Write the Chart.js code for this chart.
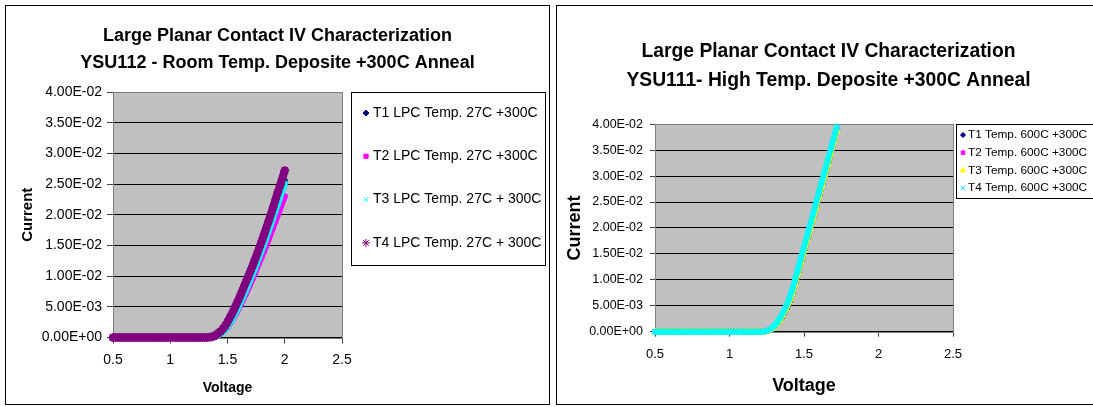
<!DOCTYPE html>
<html><head><meta charset="utf-8">
<script src="https://cdn.jsdelivr.net/npm/chart.js@4.4.1/dist/chart.umd.min.js"></script>
<style>
html,body{margin:0;padding:0;background:#fff;width:1093px;height:407px;overflow:hidden;}
.box{position:absolute;border:1px solid #000;background:#fff;box-sizing:border-box;}
#b1{left:5px;top:5px;width:545px;height:400px;}
#b2{left:556px;top:5px;width:545px;height:400px;}
canvas{display:block;}
</style></head><body>
<div class="box" id="b1"><canvas id="c1" width="543" height="398"></canvas></div>
<div class="box" id="b2"><canvas id="c2" width="543" height="398"></canvas></div>
<script>
// ---------- Chart 1: YSU112 ----------
const TITLE_112 = ['Large Planar Contact IV Characterization', 'YSU112 - Room Temp. Deposite +300C Anneal'];
const LABELS_112 = ['T1 LPC Temp. 27C +300C', 'T2 LPC Temp. 27C +300C', 'T3 LPC Temp. 27C + 300C', 'T4 LPC Temp. 27C + 300C'];
const VOLT_112 = [0.5,0.52,0.54,0.56,0.58,0.6,0.62,0.64,0.66,0.68,0.7,0.72,0.74,0.76,0.78,0.8,0.82,0.84,0.86,0.88,
  0.9,0.92,0.94,0.96,0.98,1,1.02,1.04,1.06,1.08,1.1,1.12,1.14,1.16,1.18,1.2,1.22,1.24,1.26,1.28,1.3,
  1.32,1.34,1.36,1.38,1.4,1.42,1.44,1.46,1.48,1.5,1.52,1.54,1.56,1.58,1.6,1.62,1.64,1.66,1.68,1.7,
  1.72,1.74,1.76,1.78,1.8,1.82,1.84,1.86,1.88,1.9,1.92,1.94,1.96,1.98,2.0];
const I112_T1 = [0,0,0,0,0,0,0,0,0,0,0,0,0,0,0,0,0,0,0,0,0,0,0,0,0,0,0,0,0,0,0,0,0,0,0,0,0,0,0,0,0,
  0,0.00003,0.00007,0.00015,0.0003,0.0005,0.0008,0.0011,0.0015,0.0020,0.0026,0.0033,0.0040,0.0047,0.0055,
  0.0063,0.0071,0.0080,0.0089,0.0098,0.0107,0.0116,0.0126,0.0136,0.0146,0.0156,0.0166,0.0177,0.0188,0.0199,
  0.0210,0.0221,0.0232,0.0244,0.0255];
const I112_T2 = [0,0,0,0,0,0,0,0,0,0,0,0,0,0,0,0,0,0,0,0,0,0,0,0,0,0,0,0,0,0,0,0,0,0,0,0,0,0,0,0,0,
  0,0.00002,0.00005,0.0001,0.0002,0.0004,0.0006,0.0009,0.0013,0.0017,0.0022,0.0028,0.0034,0.0041,0.0048,
  0.0055,0.0063,0.0071,0.0079,0.0087,0.0096,0.0105,0.0114,0.0123,0.0132,0.0141,0.0150,0.0160,0.0170,0.0180,
  0.0190,0.0200,0.0210,0.0220,0.0230];
const I112_T3 = [0,0,0,0,0,0,0,0,0,0,0,0,0,0,0,0,0,0,0,0,0,0,0,0,0,0,0,0,0,0,0,0,0,0,0,0,0,0,0,0,0,
  0,0.00002,0.00005,0.0001,0.0002,0.0004,0.0006,0.0009,0.0013,0.0018,0.0023,0.0029,0.0036,0.0043,0.0051,
  0.0059,0.0067,0.0076,0.0085,0.0094,0.0103,0.0112,0.0122,0.0132,0.0142,0.0152,0.0162,0.0173,0.0184,0.0195,
  0.0206,0.0217,0.0228,0.0240,0.0251];
const I112_T4 = [0,0,0,0,0,0,0,0,0,0,0,0,0,0,0,0,0,0,0,0,0,0,0,0,0,0,0,0,0,0,0,0,0,0,0,0,0,0,0,0,0,
  0.00002,0.00005,0.0001,0.0002,0.0004,0.0007,0.0010,0.0014,0.0019,0.0025,0.0032,0.0039,0.0047,0.0055,0.0063,
  0.0072,0.0081,0.0090,0.0099,0.0108,0.0117,0.0127,0.0137,0.0147,0.0157,0.0168,0.0179,0.0190,0.0201,0.0213,
  0.0225,0.0237,0.0248,0.0260,0.0272];

// ---------- Chart 2: YSU111 ----------
const TITLE_111 = ['Large Planar Contact IV Characterization', 'YSU111- High Temp. Deposite +300C Anneal'];
const LABELS_111 = ['T1 Temp. 600C +300C', 'T2 Temp. 600C +300C', 'T3 Temp. 600C +300C', 'T4 Temp. 600C +300C'];
const VOLT_111 = [0.5,0.52,0.54,0.56,0.58,0.6,0.62,0.64,0.66,0.68,0.7,0.72,0.74,0.76,0.78,0.8,0.82,0.84,0.86,0.88,
  0.9,0.92,0.94,0.96,0.98,1,1.02,1.04,1.06,1.08,1.1,1.12,1.14,1.16,1.18,1.2,1.22,
  1.24,1.26,1.28,1.3,1.32,1.34,1.36,1.38,1.4,1.42,1.44,1.46,1.48,1.5,1.52,1.54,1.56,1.58,1.6,1.62,1.64,1.66,1.68,1.7,1.72];
const I111_T1 = [0,0,0,0,0,0,0,0,0,0,0,0,0,0,0,0,0,0,0,0,0,0,0,0,0,0,0,0,0,0,0,0,0,0,0,0,0,
  0.0001,0.0002,0.0005,0.0009,0.0015,0.0023,0.0032,0.0043,0.0056,0.0073,0.0093,0.0114,0.0135,0.0156,0.0177,
  0.0198,0.0219,0.0240,0.0261,0.0282,0.0303,0.0324,0.0345,0.0366,0.0390];
const I111_T2 = [0,0,0,0,0,0,0,0,0,0,0,0,0,0,0,0,0,0,0,0,0,0,0,0,0,0,0,0,0,0,0,0,0,0,0,0,0,
  0.0001,0.0003,0.0005,0.0010,0.0016,0.0025,0.0035,0.0046,0.0060,0.0077,0.0097,0.0118,0.0139,0.0160,0.0181,
  0.0202,0.0223,0.0244,0.0265,0.0286,0.0307,0.0328,0.0349,0.0370,0.0392];
const I111_T3 = [0,0,0,0,0,0,0,0,0,0,0,0,0,0,0,0,0,0,0,0,0,0,0,0,0,0,0,0,0,0,0,0,0,0,0,0,0,
  0,0.0002,0.0005,0.0009,0.0015,0.0023,0.0033,0.0044,0.0057,0.0073,0.0093,0.0114,0.0135,0.0156,0.0177,
  0.0198,0.0219,0.0240,0.0261,0.0282,0.0303,0.0324,0.0345,0.0366,0.0388];
const I111_T4 = [0,0,0,0,0,0,0,0,0,0,0,0,0,0,0,0,0,0,0,0,0,0,0,0,0,0,0,0,0,0,0,0,0,0,0,0,0,
  0.0001,0.0003,0.0006,0.0011,0.0018,0.0027,0.0037,0.0049,0.0063,0.0080,0.0100,0.0121,0.0142,0.0163,0.0184,
  0.0205,0.0226,0.0247,0.0268,0.0289,0.0310,0.0331,0.0352,0.0373,0.0394];

// ---------- shared axis ticks ----------
const X_TICKS = [0.5, 1, 1.5, 2, 2.5];
const Y_TICKS = [0, 0.005, 0.01, 0.015, 0.02, 0.025, 0.03, 0.035, 0.04];
const X_TITLE = 'Voltage';
const Y_TITLE = 'Current';

const FONT = "'Liberation Sans', Arial, sans-serif";

function fmtE(v) {
  const s = Number(v).toExponential(2);
  const parts = s.split('e');
  const sign = parts[1][0] === '-' ? '-' : '+';
  const d = parts[1].replace(/^[+-]/, '');
  return parts[0] + 'E' + sign + (d.length < 2 ? '0' + d : d);
}

const plotBg = {
  id: 'plotBg',
  beforeDraw(chart) {
    const a = chart.chartArea, ctx = chart.ctx;
    ctx.save();
    ctx.fillStyle = '#C0C0C0';
    ctx.fillRect(a.left, a.top, a.right - a.left, a.bottom - a.top);
    ctx.restore();
  },
  beforeDatasetsDraw(chart) {
    const a = chart.chartArea, ctx = chart.ctx;
    ctx.save();
    ctx.strokeStyle = '#808080';
    ctx.lineWidth = 1;
    ctx.strokeRect(Math.round(a.left) + 0.5, Math.round(a.top) + 0.5,
      Math.round(a.right) - Math.round(a.left), Math.round(a.bottom) - Math.round(a.top));
    ctx.restore();
  }
};

const legendBox = {
  id: 'legendBox',
  afterDraw(chart, args, o) {
    const ctx = chart.ctx, a = chart.chartArea;
    const x = Math.round(a.right + o.dx), y = Math.round(a.top + o.dy);
    ctx.save();
    ctx.fillStyle = '#fff';
    ctx.fillRect(x, y, o.w, o.h);
    ctx.strokeStyle = '#000';
    ctx.lineWidth = 1;
    ctx.strokeRect(x + 0.5, y + 0.5, o.w, o.h);
    ctx.font = o.font;
    ctx.textBaseline = 'middle';
    ctx.textAlign = 'left';
    chart.data.datasets.forEach((ds, i) => {
      const cy = y + o.first + i * o.step;
      ctx.fillStyle = ds.pointBackgroundColor;
      ctx.strokeStyle = ds.pointBorderColor;
      Chart.helpers.drawPoint(ctx, {pointStyle: ds.pointStyle, radius: o.r[i], rotation: 0,
        borderWidth: ds.pointBorderWidth}, x + o.mx, cy);
      ctx.fillStyle = '#000';
      ctx.fillText(ds.label, x + o.tx, cy);
    });
    ctx.restore();
  }
};

function makeChart(id, g) {
  const styles = g.styles;
  const datasets = g.series.map((s, i) => ({
    label: g.labels[i],
    data: g.volt.map((v, k) => ({x: v, y: s[k]})),
    showLine: true,
    borderColor: styles[i].color,
    borderWidth: styles[i].lw,
    borderJoinStyle: 'round',
    borderCapStyle: 'round',
    tension: 0,
    pointStyle: styles[i].ps,
    pointRadius: styles[i].r,
    pointBackgroundColor: styles[i].color,
    pointBorderColor: styles[i].color,
    pointBorderWidth: styles[i].pbw,
    order: 3 - i,
    clip: false
  }));
  return new Chart(document.getElementById(id), {
    type: 'scatter',
    data: {datasets},
    plugins: [plotBg, legendBox],
    options: {
      responsive: false,
      animation: false,
      devicePixelRatio: 1,
      layout: {padding: 0},
      plugins: {
        legend: {display: false},
        tooltip: {enabled: false},
        title: {
          display: true, text: g.title, color: '#000',
          font: {family: FONT, size: g.titleSize, weight: 'bold', lineHeight: g.titleLH},
          padding: {top: g.titlePadT, bottom: g.titlePadB}
        },
        legendBox: g.legend
      },
      scales: {
        x: {
          type: 'linear', min: 0.5, max: 2.5,
          afterBuildTicks: s => { s.ticks = X_TICKS.map(v => ({value: v})); },
          afterFit: s => { s.height = g.xH; },
          grid: {drawOnChartArea: false, drawTicks: true, tickLength: g.tick, tickColor: '#404040', lineWidth: 1},
          border: {display: false},
          ticks: {color: '#000', padding: g.xTickPad, font: {family: FONT, size: g.xTickSize},
            callback: v => String(v)},
          title: {display: true, text: X_TITLE, color: '#000',
            font: {family: FONT, size: g.xTitleSize, weight: 'bold'}, padding: {top: 0, bottom: g.xTitlePad}}
        },
        y: {
          type: 'linear', min: 0, max: 0.04,
          afterBuildTicks: s => { s.ticks = Y_TICKS.map(v => ({value: v})); },
          afterFit: s => { s.width = g.yW; },
          grid: {color: '#000', lineWidth: 1, drawTicks: true, tickLength: g.tick, tickColor: '#404040'},
          border: {display: false},
          ticks: {color: '#000', padding: g.yTickPad, font: {family: FONT, size: g.yTickSize},
            callback: v => fmtE(v)},
          title: {display: true, text: Y_TITLE, color: '#000',
            font: {family: FONT, size: g.yTitleSize, weight: 'bold'}, padding: {top: g.yTitlePad, bottom: 0}}
        },
        // reserves the space on the right where the legend box is drawn
        legendSpace: {
          type: 'linear', position: 'right', min: 0, max: 1, display: true,
          afterFit: s => { s.width = g.padR; },
          grid: {display: false, drawTicks: false},
          border: {display: false},
          ticks: {display: false},
          title: {display: false}
        }
      }
    }
  });
}

makeChart('c1', {
  title: TITLE_112, labels: LABELS_112, volt: VOLT_112,
  series: [I112_T1, I112_T2, I112_T3, I112_T4],
  styles: [
    {color: '#000080', ps: 'rectRot', r: 3, pbw: 1, lw: 6},
    {color: '#FF00FF', ps: 'rect', r: 3, pbw: 1, lw: 6},
    {color: '#00FFFF', ps: 'crossRot', r: 3.5, pbw: 1.5, lw: 6},
    {color: '#800080', ps: 'star', r: 4.5, pbw: 1.5, lw: 8}
  ],
  padR: 207, yW: 107, xH: 66.5,
  titleSize: 18, titleLH: 1.5, titlePadT: 16.5, titlePadB: 15.5,
  tick: 6, xTickPad: 8, yTickPad: 5, xTickSize: 14, yTickSize: 14,
  xTitleSize: 14, xTitlePad: 7, yTitleSize: 15, yTitlePad: 13,
  legend: {dx: 9, dy: 0, w: 194, h: 173, first: 21, step: 43.3, mx: 15, tx: 22,
    font: "14px 'Liberation Sans', Arial, sans-serif", r: [3, 3, 3.5, 4]}
});

makeChart('c2', {
  title: TITLE_111, labels: LABELS_111, volt: VOLT_111,
  series: [I111_T1, I111_T2, I111_T3, I111_T4],
  styles: [
    {color: '#000080', ps: 'rectRot', r: 3, pbw: 1, lw: 6},
    {color: '#FF00FF', ps: 'rect', r: 3, pbw: 1, lw: 6},
    {color: '#FFFF00', ps: 'triangle', r: 3.5, pbw: 1, lw: 6},
    {color: '#00FFFF', ps: 'crossRot', r: 3.5, pbw: 1.5, lw: 6}
  ],
  padR: 147, yW: 98, xH: 72.3,
  titleSize: 19.3, titleLH: 1.5, titlePadT: 31.5, titlePadB: 28.8,
  tick: 5, xTickPad: 10, yTickPad: 7, xTickSize: 13, yTickSize: 12.5,
  xTitleSize: 18, xTitlePad: 7, yTitleSize: 18, yTitlePad: 7,
  legend: {dx: 3, dy: 0, w: 137, h: 74, first: 11, step: 17.7, mx: 7, tx: 12,
    font: "11.8px 'Liberation Sans', Arial, sans-serif", r: [2.5, 2.5, 3, 3]}
});
</script>
</body></html>
